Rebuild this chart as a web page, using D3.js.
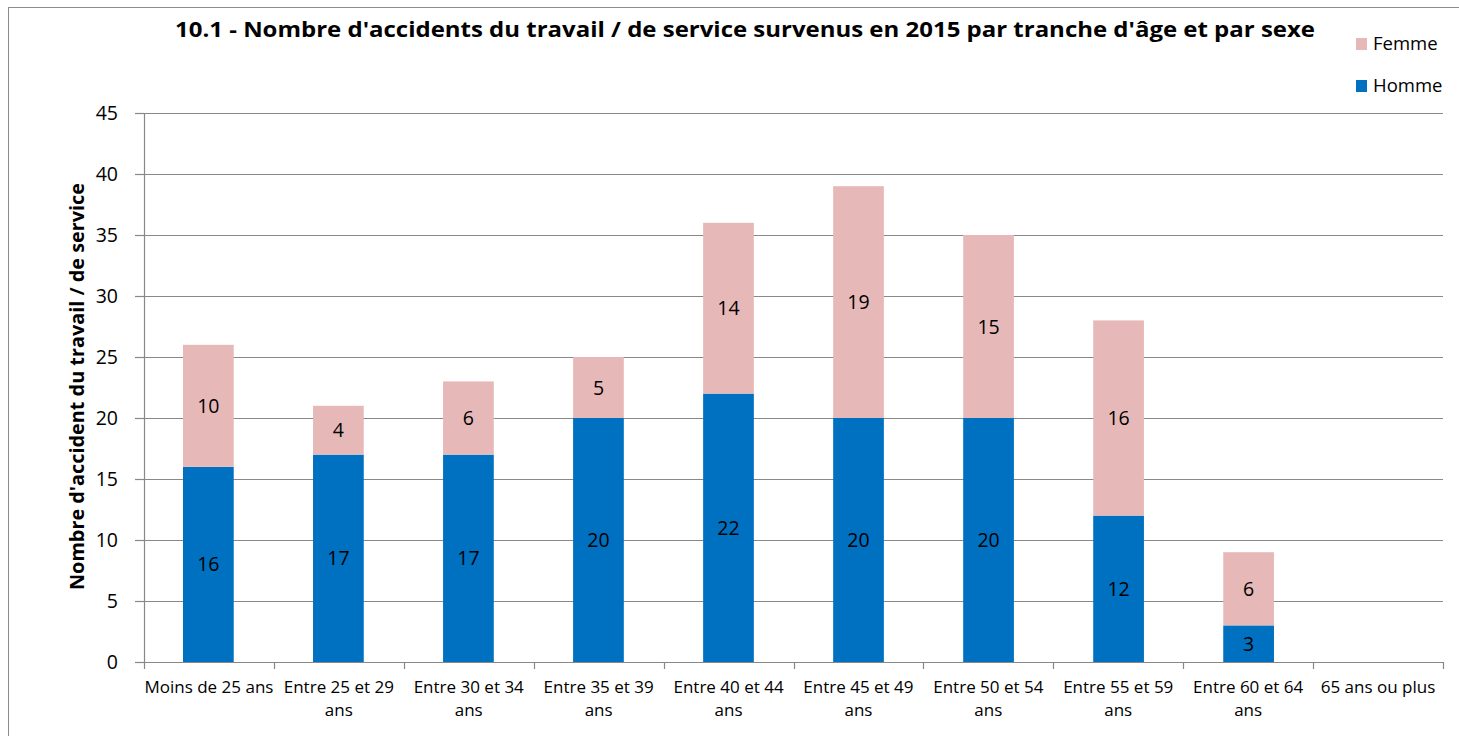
<!DOCTYPE html>
<html>
<head>
<meta charset="utf-8">
<script src="https://cdn.jsdelivr.net/npm/d3@7"></script>
<style>
  body { margin: 0; background: #fff; }
  svg { display: block; font-family: "Open Sans", "Liberation Sans", sans-serif; }
</style>
</head>
<body>
<svg id="chart" width="1459" height="736"></svg>
<script>
// data
var categories = ["Moins de 25 ans", "Entre 25 et 29 ans", "Entre 30 et 34 ans", "Entre 35 et 39 ans",
                  "Entre 40 et 44 ans", "Entre 45 et 49 ans", "Entre 50 et 54 ans", "Entre 55 et 59 ans",
                  "Entre 60 et 64 ans", "65 ans ou plus"];
var homme = [16, 17, 17, 20, 22, 20, 20, 12, 3, 0];
var femme = [10, 4, 6, 5, 14, 19, 15, 16, 6, 0];
var yTicks = [0, 5, 10, 15, 20, 25, 30, 35, 40, 45];
var seriesNames = ["Homme", "Femme"];
var colors = {Homme: "#0070C0", Femme: "#E6B9B8"};

var svg = d3.select("#chart");
var plot = {left: 144, right: 1443, top: 113, bottom: 662};

// chart border
svg.append("rect").attr("x", 8.5).attr("y", 7.5).attr("width", 1470).attr("height", 760)
  .attr("fill", "none").attr("stroke", "#8c8c8c").attr("stroke-width", 1);

var x = d3.scaleBand().domain(categories).range([plot.left, plot.right]).paddingInner(0.61).paddingOuter(0.3);
var xOuter = d3.scaleBand().domain(categories).range([plot.left, plot.right]);
var y = d3.scaleLinear().domain([0, 45]).range([plot.bottom, plot.top]);

// gridlines
svg.append("g").selectAll("line").data(yTicks.slice(1)).join("line")
  .attr("x1", plot.left).attr("x2", plot.right)
  .attr("y1", function(d){ return Math.round(y(d)) + 0.5; })
  .attr("y2", function(d){ return Math.round(y(d)) + 0.5; })
  .attr("stroke", "#888").attr("stroke-width", 1.2);

// stacked bars
var rows = categories.map(function(c, i){ return {cat: c, Homme: homme[i], Femme: femme[i]}; });
var stacked = d3.stack().keys(seriesNames)(rows);

stacked.forEach(function(layer){
  var g = svg.append("g");
  g.selectAll("rect").data(layer.filter(function(d){ return d[1] - d[0] > 0; })).join("rect")
    .attr("x", function(d){ return x(d.data.cat); })
    .attr("width", x.bandwidth())
    .attr("y", function(d){ return y(d[1]); })
    .attr("height", function(d){ return y(d[0]) - y(d[1]); })
    .attr("fill", colors[layer.key]);
  g.selectAll("text").data(layer.filter(function(d){ return d[1] - d[0] > 0; })).join("text")
    .attr("x", function(d){ return x(d.data.cat) + x.bandwidth() / 2; })
    .attr("y", function(d){ return y((d[0] + d[1]) / 2); })
    .attr("dy", "0.36em")
    .attr("text-anchor", "middle")
    .attr("font-size", 19.5)
    .attr("fill", "#000")
    .text(function(d){ return d[1] - d[0]; });
});

// y axis
var yAxis = d3.axisLeft(y).tickValues(yTicks).tickSize(9).tickPadding(17);
var gy = svg.append("g").attr("transform", "translate(" + plot.left + ",0)").call(yAxis);
gy.select(".domain").attr("stroke", "#888").attr("stroke-width", 1.2);
gy.selectAll(".tick line").attr("stroke", "#888").attr("stroke-width", 1.2);
gy.selectAll(".tick text").attr("font-size", 19.5).attr("fill", "#000").attr("font-family", "Open Sans");

// x axis with ticks at category boundaries
var gx = svg.append("g").attr("transform", "translate(0," + plot.bottom + ")");
gx.append("line").attr("x1", plot.left).attr("x2", plot.right).attr("y1", 0.5).attr("y2", 0.5)
  .attr("stroke", "#888").attr("stroke-width", 1.2);
var bounds = categories.map(function(c){ return xOuter(c); }).concat([plot.right]);
gx.selectAll("line.tk").data(bounds).join("line").attr("class", "tk")
  .attr("x1", function(d){ return Math.round(d) + 0.5; }).attr("x2", function(d){ return Math.round(d) + 0.5; })
  .attr("y1", 0).attr("y2", 7).attr("stroke", "#888").attr("stroke-width", 1.2);

var labels = gx.selectAll("text.cat").data(categories).join("text").attr("class", "cat")
  .attr("text-anchor", "middle").attr("font-size", 17).attr("fill", "#000")
  .attr("x", function(d){ return xOuter(d) + xOuter.bandwidth() / 2; })
  .attr("y", 31);
labels.each(function(d){
  var t = d3.select(this);
  var lines = d.length > 16 ? [d.slice(0, d.lastIndexOf(" ")), d.slice(d.lastIndexOf(" ") + 1)] : [d];
  lines.forEach(function(l, i){
    t.append("tspan").attr("x", t.attr("x")).attr("dy", i === 0 ? 0 : 23).text(l);
  });
});

// y axis title
svg.append("text").attr("transform", "translate(84,386.5) rotate(-90)")
  .attr("text-anchor", "middle").attr("font-size", 19).attr("font-weight", "bold")
  .attr("textLength", 407).attr("lengthAdjust", "spacingAndGlyphs")
  .text("Nombre d'accident du travail / de service");

// title
svg.append("text").attr("x", 745).attr("y", 37).attr("text-anchor", "middle")
  .attr("font-size", 22).attr("font-weight", "bold")
  .attr("textLength", 1140).attr("lengthAdjust", "spacingAndGlyphs")
  .text("10.1 - Nombre d'accidents du travail / de service survenus en 2015 par tranche d'âge et par sexe");

// legend
var legend = svg.append("g");
var legendItems = [{name: "Femme", y: 50}, {name: "Homme", y: 92}];
legend.selectAll("rect").data(legendItems).join("rect")
  .attr("x", 1356).attr("y", function(d){ return d.y - 12; }).attr("width", 11).attr("height", 12)
  .attr("fill", function(d){ return colors[d.name]; });
legend.selectAll("text").data(legendItems).join("text")
  .attr("x", 1373).attr("y", function(d){ return d.y; })
  .attr("font-size", 18.5).text(function(d){ return d.name; });
</script>
</body>
</html>
